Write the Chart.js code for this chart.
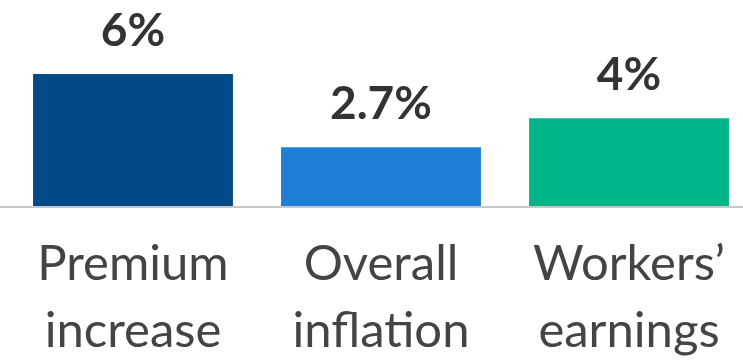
<!DOCTYPE html>
<html>
<head>
<meta charset="utf-8">
<script src="https://cdn.jsdelivr.net/npm/chart.js@4/dist/chart.umd.min.js"></script>
<style>
  html, body { margin: 0; padding: 0; background: #fff; overflow: hidden; }
  #wrap { width: 753px; height: 361px; }
</style>
</head>
<body>
<div id="wrap"><canvas id="c" width="753" height="361"></canvas></div>
<script>
// Cost growth comparison
const categories = [["Premium", "increase"], ["Overall", "inflation"], ["Workers\u2019", "earnings"]];
const values = [6, 2.7, 4];
const valueLabels = ["6%", "2.7%", "4%"];
const barColors = ["#024a86", "#1e7fd6", "#00b587"];

// Percent labels above each bar
const valueLabelPlugin = {
  id: "valueLabels",
  afterDatasetsDraw(chart) {
    const ctx = chart.ctx;
    const meta = chart.getDatasetMeta(0);
    ctx.save();
    ctx.font = "bold 46px Lato";
    ctx.fillStyle = "#333333";
    ctx.textAlign = "center";
    ctx.textBaseline = "alphabetic";
    meta.data.forEach((bar, i) => {
      ctx.fillText(valueLabels[i], bar.x, bar.y - 28);
    });
    ctx.restore();
  }
};

// Gray baseline running the full width
const baselinePlugin = {
  id: "baseline",
  afterDatasetsDraw(chart) {
    const ctx = chart.ctx;
    const y = chart.scales.y.getPixelForValue(0);
    ctx.save();
    ctx.strokeStyle = "#c8c8c8";
    ctx.lineWidth = 2;
    ctx.beginPath();
    ctx.moveTo(0, y);
    ctx.lineTo(chart.width, y);
    ctx.stroke();
    ctx.restore();
  }
};

new Chart(document.getElementById("c"), {
  type: "bar",
  data: {
    labels: categories,
    datasets: [{
      data: values,
      backgroundColor: barColors,
      borderWidth: 0,
      categoryPercentage: 1,
      barPercentage: 0.806
    }]
  },
  options: {
    responsive: false,
    animation: false,
    layout: { padding: { left: 9, right: 0, top: 0, bottom: 0 } },
    plugins: { legend: { display: false }, tooltip: { enabled: false } },
    scales: {
      x: {
        grid: { display: false, drawTicks: false },
        border: { display: false },
        ticks: {
          color: "#444444",
          font: { family: "Lato", size: 49, lineHeight: 1.37 },
          padding: 24,
          maxRotation: 0,
          autoSkip: false
        },
        afterFit(scale) { scale.height = 154; }
      },
      y: {
        display: false,
        min: 0,
        max: 9.34
      }
    }
  },
  plugins: [valueLabelPlugin, baselinePlugin]
});
</script>
</body>
</html>
